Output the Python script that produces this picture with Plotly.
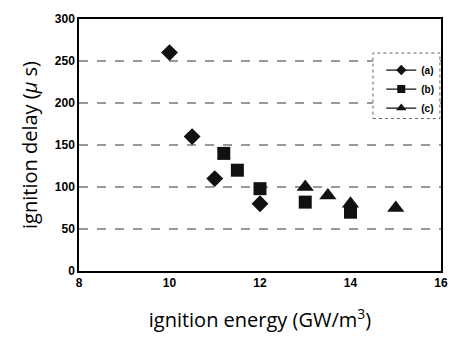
import plotly.graph_objects as go

# ignition energy (GW/m^3) vs ignition delay (μs) for three conditions
energy_a = [10, 10.5, 11, 12]
delay_a = [260, 160, 110, 80]

energy_b = [11.2, 11.5, 12, 13, 14]
delay_b = [140, 120, 98, 82, 70]

energy_c = [13, 13.5, 14, 15]
delay_c = [100, 90, 80, 75]

series_names = ["(a)", "(b)", "(c)"]
symbols = ["diamond", "square", "triangle-up"]
sizes = [13, 13, 15]
legend_sizes = [8, 8, 9]

x_ticks = [8, 10, 12, 14, 16]
y_ticks = [0, 50, 100, 150, 200, 250, 300]

ink = "#111111"
fig = go.Figure()

for xs, ys, sym, sz in zip([energy_a, energy_b, energy_c],
                           [delay_a, delay_b, delay_c], symbols, sizes):
    fig.add_trace(go.Scatter(
        x=xs, y=ys, mode="markers", showlegend=False,
        marker=dict(symbol=sym, size=sz, color=ink, line=dict(width=0)),
    ))

# legend entries drawn with a line through the marker
for name, sym, sz in zip(series_names, symbols, legend_sizes):
    fig.add_trace(go.Scatter(
        x=[None], y=[None], mode="lines+markers", name=name,
        line=dict(color=ink, width=1.2),
        marker=dict(symbol=sym, size=sz, color=ink),
    ))

# dashed horizontal gridlines
for v in y_ticks[1:-1]:
    fig.add_shape(type="line", xref="paper", yref="y", x0=0, x1=1, y0=v, y1=v,
                  line=dict(color="#333333", width=1, dash="dash"), layer="below")

# legend frame
fig.add_shape(type="rect", xref="paper", yref="paper",
              x0=0.812, x1=0.997, y0=0.605, y1=0.865,
              line=dict(color="#666666", width=1, dash="dot"), fillcolor="white",
              layer="below")

tick_font = dict(family="Liberation Sans, Arial, sans-serif", size=12, color="black",
                 weight="bold")
title_font = dict(family="Open Sans, Liberation Sans, sans-serif", size=20, color="black")

fig.update_layout(
    width=460, height=340,
    margin=dict(l=79, r=13, t=17, b=67),
    paper_bgcolor="white", plot_bgcolor="white",
    showlegend=True,
    legend=dict(x=0.835, y=0.855, xanchor="left", yanchor="top",
                bgcolor="rgba(0,0,0,0)", borderwidth=0,
                font=dict(family="Liberation Sans, Arial, sans-serif", size=10,
                          color="black", weight="bold"),
                itemwidth=30, tracegroupgap=2),
    xaxis=dict(range=[8, 16], tickvals=x_ticks, showgrid=False, zeroline=False,
               showline=True, linecolor="black", linewidth=1.5, mirror=True,
               ticks="", tickfont=tick_font,
               title=dict(text="ignition energy (GW/m<sup>3</sup>)", standoff=24,
                          font=title_font)),
    yaxis=dict(range=[0, 300], tickvals=y_ticks, showgrid=False, zeroline=False,
               showline=True, linecolor="black", linewidth=1.5, mirror=True,
               ticks="", tickfont=tick_font,
               title=dict(text="ignition delay (<i>μ</i> s)", standoff=12,
                          font=title_font)),
)

fig.write_html("out.html")
